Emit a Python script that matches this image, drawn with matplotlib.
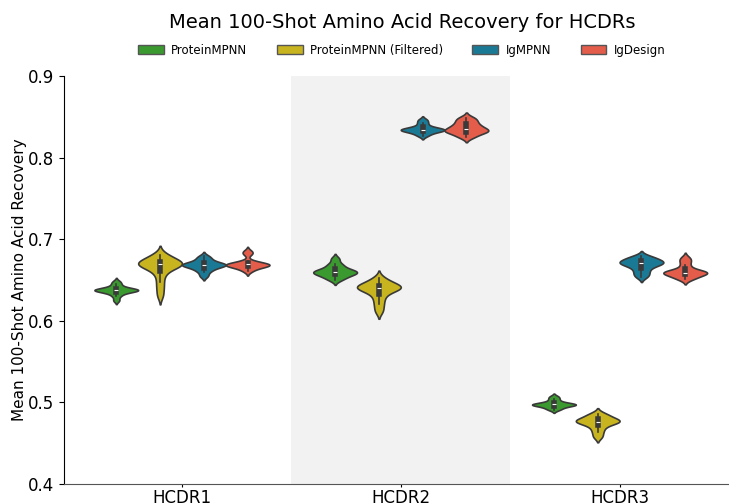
import matplotlib
matplotlib.use("Agg")
import matplotlib.pyplot as plt
import seaborn as sns
import pandas as pd
from matplotlib.patches import Patch

categories = ["HCDR1", "HCDR2", "HCDR3"]
methods = ["ProteinMPNN", "ProteinMPNN (Filtered)", "IgMPNN", "IgDesign"]
colors = ["#3a9a2f", "#c8b41e", "#1a7a96", "#e45c4a"]

# HCDR1 samples
pm_hcdr1 = [0.625, 0.630, 0.633, 0.635, 0.636, 0.637, 0.637, 0.638, 0.638, 0.638, 0.639, 0.640, 0.642, 0.645, 0.648]
pmf_hcdr1 = [0.631, 0.640, 0.648, 0.656, 0.661, 0.665, 0.667, 0.668, 0.669, 0.670, 0.670, 0.671, 0.672, 0.674, 0.676, 0.679, 0.681]
ig_hcdr1 = [0.655, 0.660, 0.663, 0.665, 0.667, 0.668, 0.668, 0.669, 0.670, 0.671, 0.673, 0.676, 0.679]
igd_hcdr1 = [0.661, 0.664, 0.666, 0.667, 0.668, 0.668, 0.669, 0.669, 0.670, 0.671, 0.673, 0.682, 0.685]
# HCDR2 samples
pm_hcdr2 = [0.650, 0.653, 0.655, 0.657, 0.658, 0.659, 0.660, 0.661, 0.662, 0.664, 0.667, 0.670, 0.676]
pmf_hcdr2 = [0.612, 0.620, 0.627, 0.633, 0.637, 0.639, 0.640, 0.641, 0.642, 0.643, 0.645, 0.648, 0.652]
ig_hcdr2 = [0.827, 0.830, 0.832, 0.833, 0.834, 0.834, 0.835, 0.836, 0.838, 0.842, 0.846]
igd_hcdr2 = [0.825, 0.828, 0.831, 0.832, 0.833, 0.834, 0.836, 0.838, 0.840, 0.843, 0.846, 0.849]
# HCDR3 samples
pm_hcdr3 = [0.491, 0.493, 0.495, 0.496, 0.497, 0.497, 0.498, 0.498, 0.499, 0.501, 0.504, 0.507]
pmf_hcdr3 = [0.458, 0.464, 0.469, 0.473, 0.475, 0.476, 0.477, 0.478, 0.479, 0.481, 0.484, 0.486]
ig_hcdr3 = [0.654, 0.658, 0.662, 0.666, 0.668, 0.670, 0.671, 0.672, 0.673, 0.675, 0.677, 0.679]
igd_hcdr3 = [0.651, 0.653, 0.655, 0.657, 0.658, 0.659, 0.659, 0.660, 0.661, 0.663, 0.668, 0.673, 0.677]

samples = {
    "HCDR1": [pm_hcdr1, pmf_hcdr1, ig_hcdr1, igd_hcdr1],
    "HCDR2": [pm_hcdr2, pmf_hcdr2, ig_hcdr2, igd_hcdr2],
    "HCDR3": [pm_hcdr3, pmf_hcdr3, ig_hcdr3, igd_hcdr3],
}
rows = []
for cdr in categories:
    for m, vals in zip(methods, samples[cdr]):
        for v in vals:
            rows.append({"cdr": cdr, "method": m, "value": v})
df = pd.DataFrame(rows)

fig = plt.figure(figsize=(7.29, 5.04), dpi=100)
ax = fig.add_axes([64/729, 1-484/504, 1-64/729, (484-76)/504])
sns.violinplot(data=df, x="cdr", y="value", hue="method", order=categories,
               hue_order=methods, palette=colors, saturation=1,
               linecolor="#3a3a3a", linewidth=1.2, inner="box",
               inner_kws={"box_width": 4, "whis_width": 1.2},
               bw_adjust=0.7, density_norm="width", legend=False, ax=ax)
ax.axvspan(0.5, 1.5, color="#f2f2f2", zorder=0, lw=0)
ax.set_xlim(-0.539, 2.5)
ax.set_ylim(0.4, 0.9)
ax.set_yticks([0.4, 0.5, 0.6, 0.7, 0.8, 0.9])
ax.set_xlabel("")
ax.set_ylabel("Mean 100-Shot Amino Acid Recovery", fontsize=11, labelpad=1)
ax.tick_params(axis="both", labelsize=12)
ax.tick_params(axis="x", length=2.5, pad=1.2)
for s in ["top", "right"]:
    ax.spines[s].set_visible(False)
ax.spines["bottom"].set_color("#555555")

handles = [Patch(facecolor=c, edgecolor="#555555", label=m) for c, m in zip(colors, methods)]
fig.legend(handles=handles, loc="center", bbox_to_anchor=(0.551, 0.90), ncol=4,
           frameon=False, fontsize=8.5, handlelength=2.2, handleheight=0.8,
           handletextpad=0.6, columnspacing=2.5)
fig.text(0.552, 0.956, "Mean 100-Shot Amino Acid Recovery for HCDRs", ha="center",
         va="center", fontsize=14)
fig.savefig("out.png", dpi=100)
